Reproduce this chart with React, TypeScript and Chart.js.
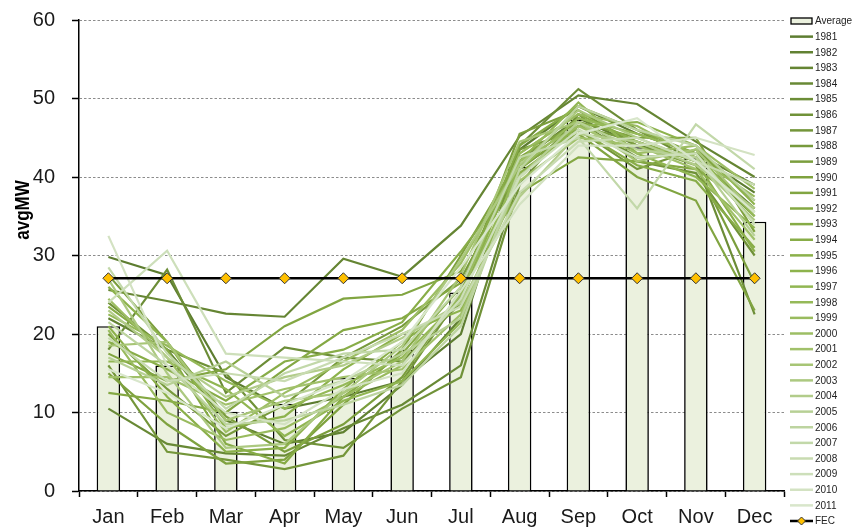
import React, { useEffect, useRef } from "react";
import { Chart, registerables } from "chart.js";

Chart.register(...registerables);

const months = ["Jan", "Feb", "Mar", "Apr", "May", "Jun", "Jul", "Aug", "Sep", "Oct", "Nov", "Dec"];
const average = [21.0, 16.0, 10.1, 11.1, 14.4, 18.0, 25.3, 41.3, 47.3, 43.8, 42.4, 34.3];
const fec = [27.1, 27.1, 27.1, 27.1, 27.1, 27.1, 27.1, 27.1, 27.1, 27.1, 27.1, 27.1];
const yTicks = [0, 10, 20, 30, 40, 50, 60];

const y1981 = [29.8, 27.5, 14.5, 10.5, 12, 14, 20, 43.5, 49, 45.5, 43, 38];
const y1982 = [22, 18, 9, 6, 7.5, 13.5, 22, 42, 47.5, 44, 42.5, 36];
const y1983 = [25.6, 24.2, 22.6, 22.2, 29.6, 27.3, 33.8, 45.2, 50.4, 49.3, 44.5, 40];
const y1984 = [10.5, 6, 4.8, 4.5, 8, 11, 16, 40, 47, 42.5, 43, 39];
const y1985 = [18, 28.2, 12.5, 18.3, 17, 16.5, 24, 44, 51.2, 46, 42, 22.5];
const y1986 = [24, 18, 15, 6.5, 5.5, 10.5, 14.5, 39, 48, 42, 40.5, 30];
const y1987 = [16, 5, 4, 2.8, 4.5, 14, 25, 43.5, 46, 41, 43.5, 37];
const y1988 = [20, 13, 7, 11, 17, 21, 27, 41, 46.5, 44.5, 42, 35];
const y1989 = [27.5, 19, 9.5, 5, 8.5, 14.5, 25.5, 45.5, 48.5, 44, 41.5, 26.5];
const y1990 = [15, 8.5, 3.5, 4, 11, 18, 30, 42.5, 47, 45, 45, 33];
const y1991 = [17.5, 14, 15.5, 21, 24.5, 25, 28, 41.5, 45.5, 40, 37, 23];
const y1992 = [12.5, 11.5, 10, 15.5, 20.5, 22, 26.5, 38, 42.5, 42, 41, 36];
const y1993 = [23.5, 18, 6, 3.5, 12, 17.5, 26, 44, 49, 46, 43, 34];
const y1994 = [19, 15.5, 11.5, 16.5, 18, 21.5, 30.5, 40.5, 46, 41.5, 39.5, 31];
const y1995 = [21, 12, 5, 5.5, 13, 19, 24, 43, 48, 44.5, 42, 30.5];
const y1996 = [26, 19, 8, 9.5, 15.5, 20, 23, 40, 46.5, 47, 44, 36.5];
const y1997 = [16.5, 16.5, 13, 7, 11.5, 14, 21.5, 42, 49.5, 43, 40, 33.5];
const y1998 = [22.5, 18.5, 14, 10.5, 13.5, 17, 24.5, 41, 47.5, 45.5, 43, 35];
const y1999 = [20.5, 10, 6.5, 8, 12, 16, 25, 43, 48, 46.5, 42.5, 37.5];
const y2000 = [24.5, 17, 7.5, 12.5, 16.5, 20.5, 29, 42, 46.5, 43, 44, 38.5];
const y2001 = [14.5, 14.5, 11, 13, 14.5, 15.5, 22.5, 39.5, 45, 44, 41, 32];
const y2002 = [18.5, 19, 9, 11.5, 12.5, 16.5, 27.5, 44.5, 47, 42, 43.5, 35.5];
const y2003 = [27, 15, 5.5, 6, 12.5, 18.5, 29.5, 41.5, 48.5, 45, 42, 34.5];
const y2004 = [23, 17, 12, 14.5, 16, 19.5, 24, 37.5, 45.5, 44.5, 41.5, 36];
const y2005 = [17, 13.5, 16.5, 12, 14, 17.5, 22, 40, 47, 43.5, 42.5, 32.5];
const y2006 = [21.5, 16, 8.5, 9, 11, 13.5, 21, 41, 49, 46, 44, 37];
const y2007 = [28.5, 17.5, 10.5, 15, 17.5, 18, 26, 42.5, 45, 36, 46.7, 41];
const y2008 = [19.5, 14, 15, 14, 17, 20, 23.5, 38, 44.5, 45, 42, 39];
const y2009 = [24, 30.6, 17.5, 17, 16.5, 16, 24.5, 40, 46, 42.5, 43, 34];
const y2010 = [32.5, 16, 10, 8.5, 13, 15, 25.5, 36.5, 44, 44, 45, 42.8];
const y2011 = [15.5, 12.5, 8, 11, 14, 19, 28.5, 39, 45.5, 47.5, 42, 35.5];

const yearLabels = [
  "1981", "1982", "1983", "1984", "1985", "1986", "1987", "1988", "1989", "1990",
  "1991", "1992", "1993", "1994", "1995", "1996", "1997", "1998", "1999", "2000",
  "2001", "2002", "2003", "2004", "2005", "2006", "2007", "2008", "2009", "2010", "2011",
];
const yearSeries = [
  y1981, y1982, y1983, y1984, y1985, y1986, y1987, y1988, y1989, y1990,
  y1991, y1992, y1993, y1994, y1995, y1996, y1997, y1998, y1999, y2000,
  y2001, y2002, y2003, y2004, y2005, y2006, y2007, y2008, y2009, y2010, y2011,
];

const FONT = "'Liberation Sans', Arial, sans-serif";

const colorStops: [number, number[]][] = [
  [0, [0x5d, 0x7d, 0x30]],
  [9, [0x7f, 0xa2, 0x3f]],
  [15, [0x8d, 0xb3, 0x4c]],
  [20, [0xa1, 0xc1, 0x6a]],
  [25, [0xbd, 0xd4, 0xa0]],
  [30, [0xd8, 0xe6, 0xcb]],
];
function yearColor(i: number): string {
  for (let k = 0; k < colorStops.length - 1; k++) {
    const [a, ca] = colorStops[k];
    const [b, cb] = colorStops[k + 1];
    if (i >= a && i <= b) {
      const t = (i - a) / (b - a);
      const c = ca.map((v, j) => Math.round(v + (cb[j] - v) * t));
      return `rgb(${c[0]},${c[1]},${c[2]})`;
    }
  }
  return "rgb(216,230,203)";
}

const legendPlugin = {
  id: "customLegend",
  afterDraw(chart: any) {
    const ctx = chart.ctx;
    const area = chart.chartArea;
    const ds = chart.data.datasets;
    const x0 = area.right + 6;
    const top = 21;
    const step = (521 - 21) / (ds.length - 1);
    ctx.save();
    ctx.font = `10px ${FONT}`;
    ctx.textBaseline = "middle";
    ctx.textAlign = "left";
    ds.forEach((d: any, i: number) => {
      const y = top + i * step;
      if (d.type === "bar") {
        ctx.fillStyle = d.backgroundColor;
        ctx.fillRect(x0 + 1, y - 3, 21, 6);
        ctx.strokeStyle = "#000";
        ctx.lineWidth = 1.3;
        ctx.strokeRect(x0 + 1, y - 3, 21, 6);
      } else {
        ctx.strokeStyle = d.borderColor;
        ctx.lineWidth = 2.5;
        ctx.beginPath();
        ctx.moveTo(x0, y);
        ctx.lineTo(x0 + 23, y);
        ctx.stroke();
        if (d.pointStyle === "rectRot") {
          ctx.fillStyle = d.pointBackgroundColor;
          ctx.strokeStyle = d.pointBorderColor;
          ctx.lineWidth = 1;
          ctx.beginPath();
          ctx.moveTo(x0 + 11.5, y - 4);
          ctx.lineTo(x0 + 15.5, y);
          ctx.lineTo(x0 + 11.5, y + 4);
          ctx.lineTo(x0 + 7.5, y);
          ctx.closePath();
          ctx.fill();
          ctx.stroke();
        }
      }
      ctx.fillStyle = "#222";
      ctx.fillText(d.label, x0 + 25, y + 0.5);
    });
    ctx.restore();
  },
};

const yTitlePlugin = {
  id: "yTitle",
  afterDraw(chart: any) {
    const ctx = chart.ctx;
    ctx.save();
    ctx.translate(23, 210);
    ctx.rotate(-Math.PI / 2);
    ctx.scale(0.85, 1);
    ctx.font = `bold 20px ${FONT}`;
    ctx.fillStyle = "#000";
    ctx.textAlign = "center";
    ctx.textBaseline = "middle";
    ctx.fillText("avgMW", 0, 0);
    ctx.restore();
  },
};

export default function App() {
  const canvasRef = useRef<HTMLCanvasElement | null>(null);

  useEffect(() => {
    const canvas = canvasRef.current;
    if (!canvas) return;

    const lineSets = yearSeries.map((vals, i) => ({
      type: "line" as const,
      label: yearLabels[i],
      data: vals,
      borderColor: yearColor(i),
      backgroundColor: yearColor(i),
      borderWidth: 2.2,
      pointRadius: 0,
      pointHoverRadius: 0,
      tension: 0,
      fill: false,
      order: 100 - i,
    }));

    const chart = new Chart(canvas, {
      data: {
        labels: months,
        datasets: [
          {
            type: "bar" as const,
            label: "Average",
            data: average,
            backgroundColor: "#ebf1de",
            borderColor: "#000",
            borderWidth: 1.6,
            barPercentage: 0.4,
            categoryPercentage: 1,
            order: 200,
          },
          ...lineSets,
          {
            type: "line" as const,
            label: "FEC",
            data: fec,
            borderColor: "#000",
            backgroundColor: "#000",
            borderWidth: 2.5,
            pointStyle: "rectRot",
            pointRadius: 5.5,
            pointHoverRadius: 5.5,
            pointBackgroundColor: "#ffc000",
            pointBorderColor: "#333",
            pointBorderWidth: 1,
            tension: 0,
            fill: false,
            order: 0,
          },
        ] as any,
      },
      options: {
        responsive: false,
        animation: false,
        devicePixelRatio: 1,
        layout: { padding: { left: 0, top: 20, right: 68, bottom: 0 } },
        plugins: {
          legend: { display: false },
          tooltip: { enabled: false },
        },
        scales: {
          x: {
            offset: true,
            grid: {
              display: true,
              drawOnChartArea: false,
              drawTicks: true,
              offset: true,
              tickLength: 6,
              tickColor: "#000",
              tickWidth: 1.5,
            },
            border: { display: true, color: "#000", width: 1.5 },
            ticks: {
              color: "#1a1a1a",
              font: { family: FONT, size: 20 },
              padding: 8,
              maxRotation: 0,
            },
            afterFit: (scale: any) => {
              scale.height = 39;
              scale.paddingLeft = 0;
              scale.paddingRight = 0;
            },
          },
          y: {
            min: 0,
            max: 60,
            afterBuildTicks: (scale: any) => {
              scale.ticks = yTicks.map((v) => ({ value: v }));
            },
            grid: {
              color: "#8c8c8c",
              lineWidth: 1,
              drawTicks: true,
              tickLength: 7,
              tickColor: "#000",
              tickWidth: 1.5,
              tickBorderDash: [],
            },
            border: { display: true, color: "#000", width: 1.5, dash: [2.5, 2] },
            ticks: {
              color: "#1a1a1a",
              font: { family: FONT, size: 20 },
              padding: 17,
            },
            afterFit: (scale: any) => {
              scale.width = 79;
              scale.paddingTop = 0;
              scale.paddingBottom = 0;
            },
          },
        },
      } as any,
      plugins: [legendPlugin, yTitlePlugin],
    });

    return () => chart.destroy();
  }, []);

  return (
    <canvas
      ref={canvasRef}
      width={852}
      height={530}
      style={{ position: "fixed", left: 0, top: 0, width: 852, height: 530, display: "block", background: "#fff" }}
    />
  );
}
